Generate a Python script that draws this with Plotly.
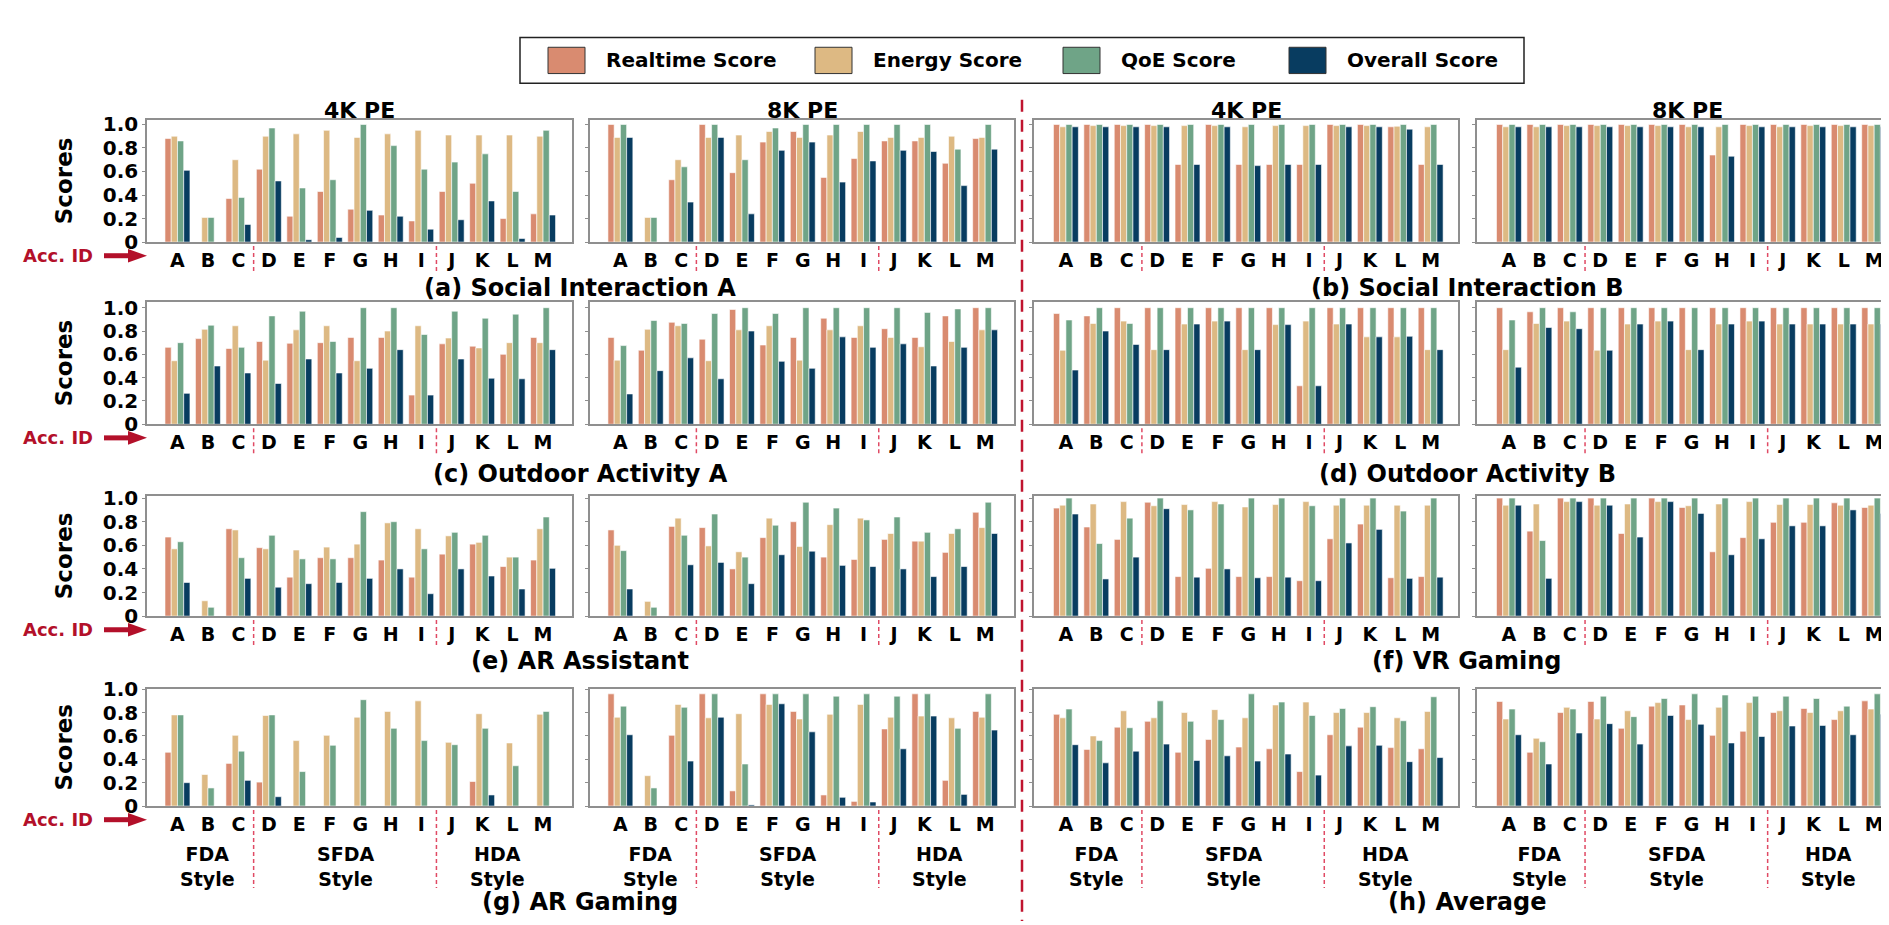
import plotly.graph_objects as go

W_PX, H_PX = 1889, 925
OFF_X, OFF_Y = 8, 15  # page offset compensation

CATEGORIES = list("ABCDEFGHIJKLM")
SERIES_NAMES = ["Realtime Score", "Energy Score", "QoE Score", "Overall Score"]
COLORS = ["#D98B70", "#DDB983", "#6FA487", "#083C60"]
Y_TICKS = [0, 0.2, 0.4, 0.6, 0.8, 1.0]
Y_TICK_TEXT = ["0", "0.2", "0.4", "0.6", "0.8", "1.0"]
COL_TITLES = ["4K PE", "8K PE", "4K PE", "8K PE"]
ROW_TITLES = [
    ["(a) Social Interaction A", "(b) Social Interaction B"],
    ["(c) Outdoor Activity A", "(d) Outdoor Activity B"],
    ["(e) AR Assistant", "(f) VR Gaming"],
    ["(g) AR Gaming", "(h) Average"],
]
STYLE_LABELS = ["FDA<br>Style", "SFDA<br>Style", "HDA<br>Style"]
STYLE_CENTERS = [1, 5.5, 10.5]
STYLE_SPLITS = [2.5, 8.5]

# ---------------- data: (a) Social Interaction A ----------------
SIA_4K_REALTIME = [0.88, 0, 0.37, 0.62, 0.22, 0.43, 0.28, 0.23, 0.18, 0.43, 0.50, 0.20, 0.24]
SIA_4K_ENERGY = [0.90, 0.21, 0.70, 0.90, 0.92, 0.95, 0.89, 0.92, 0.95, 0.91, 0.91, 0.91, 0.90]
SIA_4K_QOE = [0.86, 0.21, 0.38, 0.97, 0.46, 0.53, 1.00, 0.82, 0.62, 0.68, 0.75, 0.43, 0.95]
SIA_4K_OVERALL = [0.61, 0, 0.15, 0.52, 0.02, 0.04, 0.27, 0.22, 0.11, 0.19, 0.35, 0.03, 0.23]

SIA_8K_REALTIME = [1.00, 0, 0.53, 1.00, 0.59, 0.85, 0.94, 0.55, 0.71, 0.86, 0.86, 0.67, 0.88]
SIA_8K_ENERGY = [0.89, 0.21, 0.70, 0.89, 0.91, 0.94, 0.89, 0.91, 0.94, 0.89, 0.89, 0.90, 0.89]
SIA_8K_QOE = [1.00, 0.21, 0.64, 1.00, 0.70, 0.97, 1.00, 1.00, 1.00, 1.00, 1.00, 0.79, 1.00]
SIA_8K_OVERALL = [0.89, 0, 0.34, 0.89, 0.24, 0.78, 0.85, 0.51, 0.69, 0.78, 0.77, 0.48, 0.79]

# ---------------- (b) Social Interaction B ----------------
SIB_4K_REALTIME = [1.00, 1.00, 1.00, 1.00, 0.66, 1.00, 0.66, 0.66, 0.66, 1.00, 1.00, 0.98, 0.66]
SIB_4K_ENERGY = [0.98, 0.99, 0.99, 0.99, 0.99, 0.99, 0.98, 0.99, 0.99, 0.99, 0.99, 0.985, 0.98]
SIB_4K_QOE = [1.00, 1.00, 1.00, 1.00, 1.00, 1.00, 1.00, 1.00, 1.00, 1.00, 1.00, 1.00, 1.00]
SIB_4K_OVERALL = [0.98, 0.98, 0.98, 0.98, 0.66, 0.98, 0.65, 0.66, 0.66, 0.98, 0.98, 0.96, 0.66]

SIB_8K_REALTIME = [1.00, 1.00, 1.00, 1.00, 1.00, 1.00, 1.00, 0.74, 1.00, 1.00, 1.00, 1.00, 1.00]
SIB_8K_ENERGY = [0.98, 0.98, 0.99, 0.99, 0.99, 0.99, 0.98, 0.98, 0.99, 0.98, 0.99, 0.99, 0.99]
SIB_8K_QOE = [1.00, 1.00, 1.00, 1.00, 1.00, 1.00, 1.00, 1.00, 1.00, 1.00, 1.00, 1.00, 1.00]
SIB_8K_OVERALL = [0.98, 0.98, 0.98, 0.98, 0.98, 0.98, 0.98, 0.73, 0.98, 0.98, 0.98, 0.98, 0.98]

# ---------------- (c) Outdoor Activity A ----------------
OAA_4K_REALTIME = [0.66, 0.735, 0.65, 0.71, 0.695, 0.70, 0.745, 0.745, 0.25, 0.69, 0.67, 0.60, 0.745]
OAA_4K_ENERGY = [0.545, 0.815, 0.845, 0.55, 0.81, 0.845, 0.545, 0.80, 0.845, 0.74, 0.655, 0.70, 0.70]
OAA_4K_QOE = [0.70, 0.85, 0.66, 0.93, 0.97, 0.71, 1.00, 1.00, 0.77, 0.97, 0.91, 0.945, 1.00]
OAA_4K_OVERALL = [0.265, 0.50, 0.44, 0.35, 0.56, 0.44, 0.48, 0.64, 0.25, 0.56, 0.395, 0.39, 0.64]

OAA_8K_REALTIME = [0.745, 0.635, 0.875, 0.73, 0.985, 0.68, 0.745, 0.91, 0.745, 0.82, 0.745, 0.93, 1.00]
OAA_8K_ENERGY = [0.55, 0.815, 0.845, 0.545, 0.81, 0.845, 0.55, 0.81, 0.845, 0.745, 0.665, 0.71, 0.81]
OAA_8K_QOE = [0.675, 0.89, 0.865, 0.95, 1.00, 0.95, 1.00, 1.00, 1.00, 1.00, 0.96, 0.99, 1.00]
OAA_8K_OVERALL = [0.26, 0.46, 0.57, 0.39, 0.80, 0.54, 0.48, 0.75, 0.66, 0.69, 0.50, 0.66, 0.81]

# ---------------- (d) Outdoor Activity B ----------------
OAB_4K_REALTIME = [0.95, 0.93, 1.00, 1.00, 1.00, 1.00, 1.00, 1.00, 0.33, 1.00, 1.00, 1.00, 1.00]
OAB_4K_ENERGY = [0.635, 0.865, 0.885, 0.64, 0.86, 0.885, 0.64, 0.855, 0.885, 0.86, 0.75, 0.75, 0.64]
OAB_4K_QOE = [0.895, 1.00, 0.865, 1.00, 1.00, 1.00, 1.00, 1.00, 1.00, 1.00, 1.00, 1.00, 1.00]
OAB_4K_OVERALL = [0.465, 0.80, 0.685, 0.64, 0.86, 0.885, 0.64, 0.855, 0.33, 0.86, 0.75, 0.755, 0.64]

OAB_8K_REALTIME = [1.00, 0.965, 1.00, 1.00, 1.00, 1.00, 1.00, 1.00, 1.00, 1.00, 1.00, 1.00, 1.00]
OAB_8K_ENERGY = [0.64, 0.865, 0.885, 0.635, 0.86, 0.885, 0.64, 0.86, 0.885, 0.86, 0.86, 0.86, 0.86]
OAB_8K_QOE = [0.895, 1.00, 0.965, 1.00, 1.00, 1.00, 1.00, 1.00, 1.00, 1.00, 1.00, 1.00, 1.00]
OAB_8K_OVERALL = [0.49, 0.83, 0.82, 0.635, 0.86, 0.885, 0.64, 0.86, 0.885, 0.86, 0.86, 0.86, 0.86]

# ---------------- (e) AR Assistant ----------------
ARA_4K_REALTIME = [0.67, 0, 0.74, 0.58, 0.33, 0.495, 0.495, 0.475, 0.33, 0.525, 0.61, 0.42, 0.475]
ARA_4K_ENERGY = [0.57, 0.13, 0.73, 0.57, 0.56, 0.585, 0.61, 0.79, 0.74, 0.68, 0.625, 0.50, 0.74]
ARA_4K_QOE = [0.63, 0.075, 0.495, 0.685, 0.485, 0.485, 0.885, 0.80, 0.57, 0.71, 0.685, 0.50, 0.84]
ARA_4K_OVERALL = [0.285, 0, 0.32, 0.245, 0.275, 0.285, 0.32, 0.40, 0.19, 0.40, 0.34, 0.23, 0.405]

ARA_8K_REALTIME = [0.73, 0, 0.76, 0.75, 0.40, 0.665, 0.80, 0.50, 0.48, 0.65, 0.635, 0.54, 0.88]
ARA_8K_ENERGY = [0.60, 0.125, 0.83, 0.595, 0.545, 0.83, 0.59, 0.775, 0.83, 0.70, 0.635, 0.70, 0.75]
ARA_8K_QOE = [0.555, 0.075, 0.685, 0.865, 0.50, 0.77, 0.965, 0.915, 0.815, 0.84, 0.71, 0.74, 0.965]
ARA_8K_OVERALL = [0.23, 0, 0.435, 0.455, 0.275, 0.52, 0.55, 0.43, 0.42, 0.40, 0.335, 0.42, 0.70]

# ---------------- (f) VR Gaming ----------------
VRG_4K_REALTIME = [0.915, 0.755, 0.65, 0.965, 0.335, 0.405, 0.335, 0.335, 0.30, 0.655, 0.78, 0.325, 0.335]
VRG_4K_ENERGY = [0.94, 0.95, 0.97, 0.935, 0.945, 0.97, 0.925, 0.945, 0.97, 0.94, 0.94, 0.94, 0.94]
VRG_4K_QOE = [1.00, 0.615, 0.83, 1.00, 0.90, 0.95, 1.00, 1.00, 0.935, 1.00, 1.00, 0.89, 1.00]
VRG_4K_OVERALL = [0.865, 0.315, 0.50, 0.91, 0.33, 0.40, 0.325, 0.33, 0.30, 0.62, 0.735, 0.32, 0.33]

VRG_8K_REALTIME = [1.00, 0.72, 1.00, 1.00, 0.70, 1.00, 0.92, 0.545, 0.665, 0.795, 0.795, 0.96, 0.92]
VRG_8K_ENERGY = [0.94, 0.95, 0.97, 0.94, 0.95, 0.97, 0.935, 0.95, 0.97, 0.945, 0.945, 0.94, 0.94]
VRG_8K_QOE = [1.00, 0.64, 1.00, 1.00, 1.00, 1.00, 1.00, 1.00, 1.00, 1.00, 1.00, 1.00, 1.00]
VRG_8K_OVERALL = [0.94, 0.32, 0.97, 0.94, 0.67, 0.97, 0.87, 0.52, 0.655, 0.765, 0.765, 0.90, 0.87]

# ---------------- (g) AR Gaming ----------------
ARG_4K_REALTIME = [0.46, 0, 0.365, 0.205, 0, 0, 0, 0, 0, 0, 0.21, 0, 0]
ARG_4K_ENERGY = [0.78, 0.27, 0.605, 0.775, 0.56, 0.605, 0.76, 0.81, 0.90, 0.545, 0.79, 0.54, 0.785]
ARG_4K_QOE = [0.78, 0.155, 0.47, 0.78, 0.295, 0.52, 0.91, 0.665, 0.56, 0.525, 0.665, 0.345, 0.81]
ARG_4K_OVERALL = [0.20, 0, 0.22, 0.08, 0, 0, 0, 0, 0, 0, 0.095, 0, 0]

ARG_8K_REALTIME = [0.96, 0, 0.605, 0.96, 0.13, 0.96, 0.81, 0.095, 0.04, 0.66, 0.96, 0.22, 0.81]
ARG_8K_ENERGY = [0.76, 0.26, 0.87, 0.755, 0.79, 0.87, 0.745, 0.785, 0.87, 0.76, 0.77, 0.755, 0.76]
ARG_8K_QOE = [0.855, 0.155, 0.845, 0.96, 0.36, 0.96, 0.96, 0.94, 0.96, 0.94, 0.96, 0.665, 0.96]
ARG_8K_OVERALL = [0.61, 0, 0.385, 0.76, 0.01, 0.875, 0.635, 0.075, 0.035, 0.49, 0.77, 0.10, 0.65]

# ---------------- (h) Average ----------------
AVG_4K_REALTIME = [0.785, 0.485, 0.675, 0.725, 0.46, 0.57, 0.505, 0.49, 0.295, 0.61, 0.675, 0.50, 0.49]
AVG_4K_ENERGY = [0.755, 0.60, 0.815, 0.755, 0.80, 0.825, 0.755, 0.865, 0.89, 0.80, 0.80, 0.755, 0.81]
AVG_4K_QOE = [0.83, 0.56, 0.67, 0.90, 0.725, 0.74, 0.96, 0.89, 0.775, 0.835, 0.85, 0.73, 0.935]
AVG_4K_OVERALL = [0.525, 0.37, 0.47, 0.53, 0.39, 0.43, 0.385, 0.445, 0.265, 0.515, 0.52, 0.38, 0.415]

AVG_8K_REALTIME = [0.895, 0.46, 0.80, 0.895, 0.665, 0.855, 0.865, 0.605, 0.64, 0.80, 0.835, 0.74, 0.90]
AVG_8K_ENERGY = [0.745, 0.58, 0.845, 0.745, 0.815, 0.885, 0.74, 0.845, 0.885, 0.815, 0.80, 0.815, 0.83]
AVG_8K_QOE = [0.83, 0.55, 0.83, 0.94, 0.765, 0.92, 0.96, 0.95, 0.94, 0.94, 0.92, 0.855, 0.96]
AVG_8K_OVERALL = [0.61, 0.36, 0.625, 0.705, 0.53, 0.775, 0.70, 0.54, 0.595, 0.685, 0.69, 0.61, 0.785]

PANELS = [
    [SIA_4K_REALTIME, SIA_4K_ENERGY, SIA_4K_QOE, SIA_4K_OVERALL],
    [SIA_8K_REALTIME, SIA_8K_ENERGY, SIA_8K_QOE, SIA_8K_OVERALL],
    [SIB_4K_REALTIME, SIB_4K_ENERGY, SIB_4K_QOE, SIB_4K_OVERALL],
    [SIB_8K_REALTIME, SIB_8K_ENERGY, SIB_8K_QOE, SIB_8K_OVERALL],
    [OAA_4K_REALTIME, OAA_4K_ENERGY, OAA_4K_QOE, OAA_4K_OVERALL],
    [OAA_8K_REALTIME, OAA_8K_ENERGY, OAA_8K_QOE, OAA_8K_OVERALL],
    [OAB_4K_REALTIME, OAB_4K_ENERGY, OAB_4K_QOE, OAB_4K_OVERALL],
    [OAB_8K_REALTIME, OAB_8K_ENERGY, OAB_8K_QOE, OAB_8K_OVERALL],
    [ARA_4K_REALTIME, ARA_4K_ENERGY, ARA_4K_QOE, ARA_4K_OVERALL],
    [ARA_8K_REALTIME, ARA_8K_ENERGY, ARA_8K_QOE, ARA_8K_OVERALL],
    [VRG_4K_REALTIME, VRG_4K_ENERGY, VRG_4K_QOE, VRG_4K_OVERALL],
    [VRG_8K_REALTIME, VRG_8K_ENERGY, VRG_8K_QOE, VRG_8K_OVERALL],
    [ARG_4K_REALTIME, ARG_4K_ENERGY, ARG_4K_QOE, ARG_4K_OVERALL],
    [ARG_8K_REALTIME, ARG_8K_ENERGY, ARG_8K_QOE, ARG_8K_OVERALL],
    [AVG_4K_REALTIME, AVG_4K_ENERGY, AVG_4K_QOE, AVG_4K_OVERALL],
    [AVG_8K_REALTIME, AVG_8K_ENERGY, AVG_8K_QOE, AVG_8K_OVERALL],
]

# ---------------- layout geometry (target pixels) ----------------
COL_PX = [(147, 572), (590, 1014), (1034, 1458), (1477, 1897)]
ROW_PX = [(118, 243), (305, 430), (504, 627), (702, 822)]
ROW_YMAX = [1.035, 1.045, 1.015, 1.0]
TITLE_Y = [290, 481, 673, 921]
STYLE_Y = 884
X_RANGES = [[-1.0, 12.95], [-1.0, 12.95], [-1.05, 12.9], [-1.05, 12.75]]
BAR_W = 0.205
FONT = "DejaVu Sans"
FRAME = "#8f8f8f"
RED = "#B3102A"
DASH_RED = "#E04A64"


def px(x):
    return (x - OFF_X) / W_PX


def py(y):
    return 1 - (y - OFF_Y) / H_PX


def txt(x, y, text, size, color="black", **kw):
    d = dict(xref="paper", yref="paper", x=px(x), y=py(y), text=text, showarrow=False,
             xanchor="center", yanchor="middle",
             font=dict(family=FONT, size=size, color=color, weight="bold"))
    d.update(kw)
    return d


fig = go.Figure()
layout = {}
shapes = []
annotations = []

for p, series in enumerate(PANELS):
    r, c = divmod(p, 4)
    n = p + 1
    xa = "x" if n == 1 else f"x{n}"
    ya = "y" if n == 1 else f"y{n}"
    for k, vals in enumerate(series):
        xs = [i + (k - 1.5) * BAR_W for i in range(len(CATEGORIES))]
        fig.add_trace(go.Bar(
            x=xs, y=vals, width=BAR_W, name=SERIES_NAMES[k],
            marker=dict(color=COLORS[k], line=dict(color="white", width=0.6)),
            xaxis=xa, yaxis=ya, showlegend=False,
        ))
    x0, x1 = COL_PX[c]
    t, b = ROW_PX[r]
    layout["xaxis" if n == 1 else f"xaxis{n}"] = dict(
        domain=[px(x0), min(1.0, px(x1))], anchor=ya, range=X_RANGES[c],
        tickvals=list(range(len(CATEGORIES))), ticktext=CATEGORIES,
        tickfont=dict(family=FONT, size=19, color="black", weight="bold"),
        showline=True, mirror=True, linecolor=FRAME, linewidth=1.5,
        showgrid=False, zeroline=False, ticks="",
    )
    layout["yaxis" if n == 1 else f"yaxis{n}"] = dict(
        domain=[py(b), py(t)], anchor=xa, range=[0, ROW_YMAX[r]],
        tickvals=Y_TICKS, ticktext=Y_TICK_TEXT, showticklabels=(c == 0),
        tickfont=dict(family=FONT, size=20, color="black", weight="bold"),
        ticks="outside", ticklen=3, tickcolor=FRAME,
        showline=True, mirror=(c != 3), linecolor=FRAME, linewidth=1.5,
        showgrid=False, zeroline=False,
    )
    y_end = STYLE_Y + 22 if r == 3 else b + 30
    for s in STYLE_SPLITS:
        shapes.append(dict(type="line", xref=xa, yref="paper", x0=s, x1=s,
                           y0=py(b + 4), y1=py(y_end),
                           line=dict(color=DASH_RED, width=1.5, dash="4px,3px")))
    if r == 3:
        for lab, cx in zip(STYLE_LABELS, STYLE_CENTERS):
            annotations.append(dict(xref=xa, yref="paper", x=cx, y=py(STYLE_Y),
                                    text=lab, showarrow=False, xanchor="center", yanchor="middle",
                                    font=dict(family=FONT, size=19, color="black", weight="bold")))
    if r == 0:
        cx = (x0 + x1) / 2
        annotations.append(txt(cx, 108, COL_TITLES[c], 22))

for r, (t, b) in enumerate(ROW_PX):
    ymid = (t + b) / 2
    annotations.append(txt(64, ymid, "Scores", 23, textangle=-90))
    yl = b + 14
    annotations.append(txt(58, yl, "Acc. ID", 18, color=RED))
    shapes.append(dict(type="line", xref="paper", yref="paper", x0=px(104), x1=px(132),
                       y0=py(yl), y1=py(yl), line=dict(color=RED, width=5)))
    shapes.append(dict(type="path", xref="paper", yref="paper",
                       path=f"M {px(128)},{py(yl - 7)} L {px(147)},{py(yl)} L {px(128)},{py(yl + 7)} Z",
                       fillcolor=RED, line=dict(color=RED, width=0)))
    annotations.append(txt(580, TITLE_Y[r], ROW_TITLES[r][0], 24))
    annotations.append(txt(1467, TITLE_Y[r], ROW_TITLES[r][1], 24))

shapes.append(dict(type="line", xref="paper", yref="paper", x0=px(1022), x1=px(1022),
                   y0=py(97), y1=0, line=dict(color="#C0142F", width=2.5, dash="12px,8px")))

# custom legend
shapes.append(dict(type="rect", xref="paper", yref="paper", x0=px(520), x1=px(1524),
                   y0=py(33), y1=py(80), line=dict(color="#222", width=1.5), fillcolor="white"))
LEG_PATCH_X = [548, 815, 1063, 1289]
for k, lx in enumerate(LEG_PATCH_X):
    shapes.append(dict(type="rect", xref="paper", yref="paper", x0=px(lx), x1=px(lx + 37),
                       y0=py(43), y1=py(70), fillcolor=COLORS[k], line=dict(color="#333", width=1)))
    annotations.append(txt(lx + 56, 56.5, SERIES_NAMES[k], 20, xanchor="left"))

fig.update_layout(
    width=W_PX, height=H_PX, margin=dict(l=0, r=0, t=0, b=0),
    paper_bgcolor="white", plot_bgcolor="white", barmode="overlay",
    shapes=shapes, annotations=annotations, **layout,
)

fig.write_html("out.html")
